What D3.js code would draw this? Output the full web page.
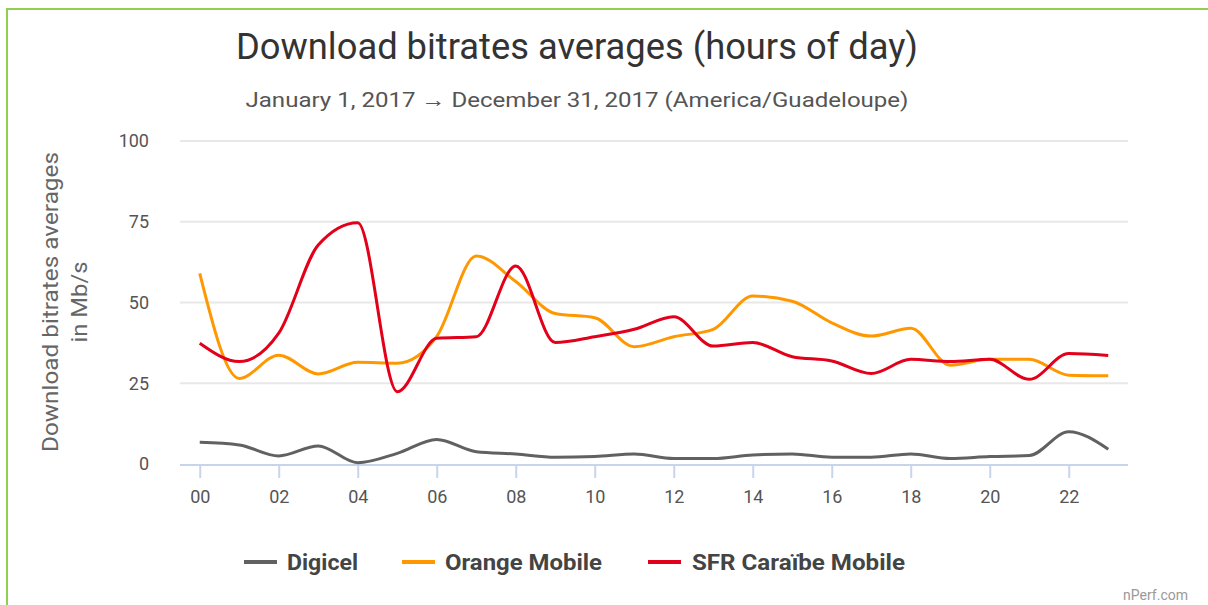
<!DOCTYPE html>
<html>
<head>
  <meta charset="utf-8">
  <script src="https://cdn.jsdelivr.net/npm/d3@7"></script>
  <style>
    body { margin: 0; background: #fff; }
    text { font-family: Roboto, "Noto Sans", sans-serif; }
  </style>
</head>
<body>
<div id="chart"></div>
<script>
  var width = 1208, height = 605;

  // hour of day labels
  var hours = ["00","01","02","03","04","05","06","07","08","09","10","11",
               "12","13","14","15","16","17","18","19","20","21","22","23"];
  var tickLabels = ["00","02","04","06","08","10","12","14","16","18","20","22"];
  var yTicks = [0, 25, 50, 75, 100];

  // download averages in Mb/s
  var digicel = [6.7, 5.9, 2.5, 5.6, 0.4, 3.3, 7.6, 3.8, 3.1, 2.1, 2.3, 3.1,
                 1.7, 1.7, 2.8, 3.1, 2.1, 2.1, 3.1, 1.7, 2.3, 2.6, 10, 4.6];
  var orange = [59, 26.5, 33.7, 27.9, 31.5, 31.2, 39.5, 64.4, 56.5, 46.6, 45.3, 36.3,
                39.4, 41.7, 52, 50.4, 43.7, 39.6, 42, 30.6, 32.4, 32.4, 27.5, 27.3];
  var sfr = [37.4, 31.7, 40.5, 67.8, 74.7, 22.4, 38.9, 39.4, 61.3, 37.6, 39.4, 41.7,
             45.6, 36.5, 37.6, 33.2, 31.9, 28, 32.4, 31.7, 32.4, 26.2, 34.2, 33.6];

  var seriesNames = ["Digicel", "Orange Mobile", "SFR Caraïbe Mobile"];
  var seriesColors = ["#616161", "#ff9800", "#e2001a"];
  var seriesValues = [digicel, orange, sfr];

  var svg = d3.select("#chart").append("svg")
    .attr("width", width).attr("height", height);

  // green frame (top and left edge only)
  svg.append("line").attr("x1", 6).attr("x2", width).attr("y1", 9).attr("y2", 9)
    .attr("stroke", "#8fd14f").attr("stroke-width", 2);
  svg.append("line").attr("x1", 7).attr("x2", 7).attr("y1", 8).attr("y2", height)
    .attr("stroke", "#8fd14f").attr("stroke-width", 2);

  // titles
  svg.append("text").attr("x", 577).attr("y", 59)
    .attr("text-anchor", "middle").attr("font-size", 36).attr("fill", "#333")
    .attr("textLength", 682).attr("lengthAdjust", "spacingAndGlyphs")
    .text("Download bitrates averages (hours of day)");
  svg.append("text").attr("x", 577).attr("y", 107)
    .attr("text-anchor", "middle").attr("font-size", 21).attr("fill", "#555")
    .attr("textLength", 663).attr("lengthAdjust", "spacingAndGlyphs")
    .text("January 1, 2017 \u2192 December 31, 2017 (America/Guadeloupe)");

  var x = d3.scalePoint().domain(hours).range([180, 1128]).padding(0.5);
  var y = d3.scaleLinear().domain([0, 100]).range([464, 141]);

  // gridlines
  svg.append("g").selectAll("line").data(yTicks.filter(function(d) { return d > 0; }))
    .enter().append("line")
    .attr("x1", 180).attr("x2", 1128)
    .attr("y1", function(d) { return y(d); }).attr("y2", function(d) { return y(d); })
    .attr("stroke", "#e8e8e8").attr("stroke-width", 2);

  // y axis labels
  var yAxis = svg.append("g").attr("transform", "translate(180,0)")
    .call(d3.axisLeft(y).tickValues(yTicks).tickSize(0).tickPadding(31));
  yAxis.select(".domain").remove();
  yAxis.selectAll("text").attr("font-size", 18).attr("fill", "#555")
    .attr("font-family", "Roboto, sans-serif");

  // x axis
  var xAxis = svg.append("g").attr("transform", "translate(0,465)")
    .call(d3.axisBottom(x).tickValues(tickLabels).tickSize(13).tickPadding(12));
  xAxis.select(".domain").attr("stroke", "#c8d4ec").attr("stroke-width", 2)
    .attr("d", "M180,0H1128");
  xAxis.selectAll(".tick line").attr("stroke", "#c8d4ec").attr("stroke-width", 2);
  xAxis.selectAll("text").attr("font-size", 18).attr("fill", "#555")
    .attr("font-family", "Roboto, sans-serif");

  // y axis title
  var yTitle = svg.append("text").attr("transform", "translate(58,302) rotate(-90)")
    .attr("text-anchor", "middle").attr("font-size", 22).attr("fill", "#666");
  yTitle.append("tspan").attr("x", 0).attr("dy", 0)
    .attr("textLength", 300).attr("lengthAdjust", "spacingAndGlyphs")
    .text("Download bitrates averages");
  yTitle.append("tspan").attr("x", 0).attr("dy", 29)
    .attr("textLength", 81).attr("lengthAdjust", "spacingAndGlyphs")
    .text("in Mb/s");

  // lines
  var line = d3.line()
    .x(function(d, i) { return x(hours[i]); })
    .y(function(d) { return y(d); })
    .curve(d3.curveMonotoneX);

  seriesValues.forEach(function(vals, k) {
    svg.append("path").datum(vals)
      .attr("d", line)
      .attr("fill", "none")
      .attr("stroke", seriesColors[k])
      .attr("stroke-width", 3);
  });

  // legend
  var legendMarks = [244, 402, 648];
  var legendText = [287, 445, 692];
  var legendWidth = [71, 157, 213];
  seriesNames.forEach(function(name, k) {
    svg.append("line")
      .attr("x1", legendMarks[k]).attr("x2", legendMarks[k] + 33)
      .attr("y1", 562).attr("y2", 562)
      .attr("stroke", seriesColors[k]).attr("stroke-width", 4);
    svg.append("text").attr("x", legendText[k]).attr("y", 570)
      .attr("font-size", 22).attr("font-weight", "bold").attr("fill", "#444")
      .attr("textLength", legendWidth[k]).attr("lengthAdjust", "spacingAndGlyphs")
      .text(name);
  });

  svg.append("text").attr("x", 1188).attr("y", 600)
    .attr("text-anchor", "end").attr("font-size", 14).attr("fill", "#999")
    .text("nPerf.com");
</script>
</body>
</html>
